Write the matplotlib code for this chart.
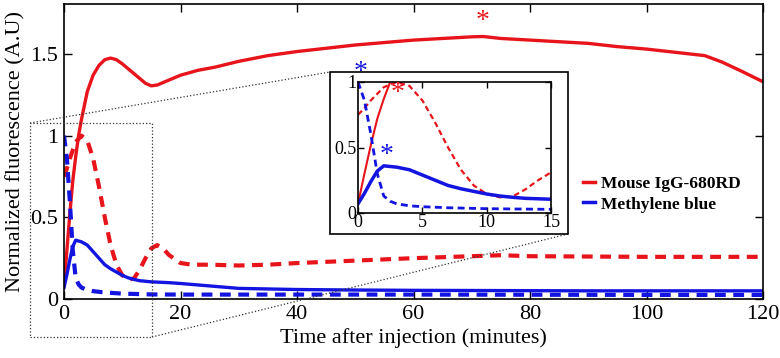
import matplotlib
matplotlib.use("Agg")
import matplotlib.pyplot as plt
from matplotlib.patches import Rectangle
from matplotlib.lines import Line2D

plt.rcParams['font.family'] = ['Liberation Serif', 'DejaVu Serif']

RED = '#e8141b'
BLUE = '#1414e0'

# ---- data (minutes, normalized fluorescence) ----
igg_t = [0, 0.5, 1, 1.5, 2, 2.5, 3, 4, 5, 6, 7, 8, 9, 10, 12, 14, 15, 16, 18, 20, 23,
         26, 30, 35, 40, 45, 50, 55, 60, 65, 70, 72, 75, 80, 85, 90, 95, 100, 105, 110, 113, 116, 120]
igg_solid = [0.07, 0.3, 0.52, 0.72, 0.87, 1.0, 1.1, 1.27, 1.37, 1.43, 1.465, 1.475, 1.465, 1.44,
             1.38, 1.32, 1.305, 1.31, 1.34, 1.37, 1.40, 1.42, 1.455, 1.49, 1.515, 1.535, 1.555,
             1.57, 1.585, 1.595, 1.605, 1.607, 1.595, 1.585, 1.575, 1.565, 1.545, 1.53, 1.51,
             1.49, 1.45, 1.40, 1.33]

igg_dash_t = [0, 0.5, 1, 2, 3, 4, 5, 6, 7, 8, 9, 10, 11, 12, 13, 14, 15, 16, 17, 18, 20, 22,
              25, 30, 35, 40, 50, 60, 70, 75, 80, 90, 100, 110, 120]
igg_dash = [0.75, 0.8, 0.86, 0.96, 1.0, 0.97, 0.86, 0.69, 0.5, 0.33, 0.21, 0.145, 0.12, 0.125,
            0.18, 0.25, 0.31, 0.33, 0.31, 0.27, 0.22, 0.21, 0.21, 0.205, 0.21, 0.22, 0.235,
            0.25, 0.262, 0.268, 0.262, 0.26, 0.258, 0.258, 0.258]

mb_t = [0, 0.5, 1, 1.5, 2, 3, 4, 5, 6, 7, 8, 9, 10, 11, 12, 13, 15, 18, 20, 25, 30, 40,
        50, 60, 70, 80, 90, 100, 110, 120]
mb_solid = [0.07, 0.15, 0.24, 0.32, 0.36, 0.35, 0.33, 0.29, 0.25, 0.21, 0.185, 0.165, 0.145,
            0.13, 0.12, 0.112, 0.105, 0.10, 0.095, 0.08, 0.065, 0.058, 0.055, 0.053, 0.052,
            0.051, 0.05, 0.05, 0.05, 0.05]

mb_dash_t = [0, 0.5, 1, 1.5, 2, 2.5, 3, 4, 5, 7, 10, 15, 20, 30, 40, 60, 80, 100, 120]
mb_dash = [1.0, 0.86, 0.6, 0.3, 0.13, 0.09, 0.07, 0.055, 0.048, 0.04, 0.033, 0.028, 0.027,
           0.027, 0.027, 0.027, 0.026, 0.025, 0.025]

legend_labels = ['Mouse IgG-680RD', 'Methylene blue']
main_xticks = [0, 20, 40, 60, 80, 100, 120]
main_yticks = [0, 0.5, 1, 1.5]
main_yticklabels = ['0', '0.5', '1', '1.5']
inset_xticks = [0, 5, 10, 15]
inset_yticks = [0, 0.5, 1]
inset_yticklabels = ['0', '0.5', '1']

# star annotations (x, y)
star_main_igg = (71.8, 1.70)
star_inset_mb_dash = (0.2, 1.07)
star_inset_igg_dash = (3.1, 0.91)
star_inset_mb = (2.2, 0.44)

W, H = 780, 358
fig = plt.figure(figsize=(W / 100, H / 100), dpi=100)

def fx(px):
    return px / W

def fy(py):
    return 1 - py / H

ax = fig.add_axes([fx(64), fy(299), fx(763) - fx(64), fy(4) - fy(299)])
ax.plot(igg_t, igg_solid, color=RED, lw=2.4, solid_capstyle='butt')
ax.plot(igg_dash_t, igg_dash, color=RED, lw=3.0, ls=(0, (2.6, 1.8)))
ax.plot(mb_t, mb_solid, color=BLUE, lw=2.4)
ax.plot(mb_dash_t, mb_dash, color=BLUE, lw=3.0, ls=(0, (2.6, 1.8)))
ax.text(*star_main_igg, '*', color=RED, fontsize=20, ha='center', va='center')
ax.set_xlim(0, 120)
ax.set_ylim(0, 1.806)
ax.set_xticks(main_xticks)
ax.set_yticks(main_yticks)
ax.set_yticklabels(main_yticklabels)
ax.tick_params(direction='in', top=True, right=True, labelsize=16, length=6, width=1, pad=4)
ax.set_xlabel('Time after injection (minutes)', fontsize=16, labelpad=3)
ax.set_ylabel('Normalized fluorescence (A.U)', fontsize=16, labelpad=4)
for s in ax.spines.values():
    s.set_linewidth(1.2)

handles = [Line2D([], [], color=RED, lw=2.5), Line2D([], [], color=BLUE, lw=2.5)]
leg = ax.legend(handles, legend_labels, loc='lower left', bbox_to_anchor=(0.72, 0.24),
                frameon=False, handlelength=0.7, handletextpad=0.35, labelspacing=0.25,
                prop={'weight': 'bold', 'size': 12.5, 'family': 'Liberation Serif'})

# dotted zoom rectangle and connector lines (figure coords)
fig.add_artist(Rectangle((fx(30), fy(337)), fx(152) - fx(30), fy(123) - fy(337),
                         transform=fig.transFigure, fill=False, ls=':', lw=0.9, ec='#333333'))
fig.add_artist(Line2D([fx(30), fx(330)], [fy(123), fy(72)], transform=fig.transFigure,
                      ls=':', lw=0.9, color='#333333'))
fig.add_artist(Line2D([fx(152), fx(568)], [fy(337), fy(234)], transform=fig.transFigure,
                      ls=':', lw=0.9, color='#333333'))

# inset frame
fig.add_artist(Rectangle((fx(330), fy(234)), fx(568) - fx(330), fy(72) - fy(234),
                         transform=fig.transFigure, fc='white', ec='black', lw=1.2, zorder=3))

ins = fig.add_axes([fx(358), fy(213), fx(551) - fx(358), fy(82) - fy(213)], zorder=4)
ins.plot(igg_t, igg_solid, color=RED, lw=1.5)
ins.plot(igg_dash_t, igg_dash, color=RED, lw=1.6, ls=(0, (2.5, 1.6)))
ins.plot(mb_t, mb_solid, color=BLUE, lw=2.5)
ins.plot(mb_dash_t, mb_dash, color=BLUE, lw=2.0, ls=(0, (2.5, 1.6)))
ins.text(*star_inset_mb_dash, '*', color=BLUE, fontsize=20, ha='center', va='center', clip_on=False)
ins.text(*star_inset_igg_dash, '*', color=RED, fontsize=20, ha='center', va='center')
ins.text(*star_inset_mb, '*', color=BLUE, fontsize=20, ha='center', va='center')
ins.set_xlim(0, 15)
ins.set_ylim(0, 1)
ins.set_xticks(inset_xticks)
ins.set_yticks(inset_yticks)
ins.set_yticklabels(inset_yticklabels)
ins.tick_params(direction='in', top=True, right=True, labelsize=13, length=4, width=1, pad=1)
for s in ins.spines.values():
    s.set_linewidth(1.2)

fig.savefig('out.png', dpi=100)
